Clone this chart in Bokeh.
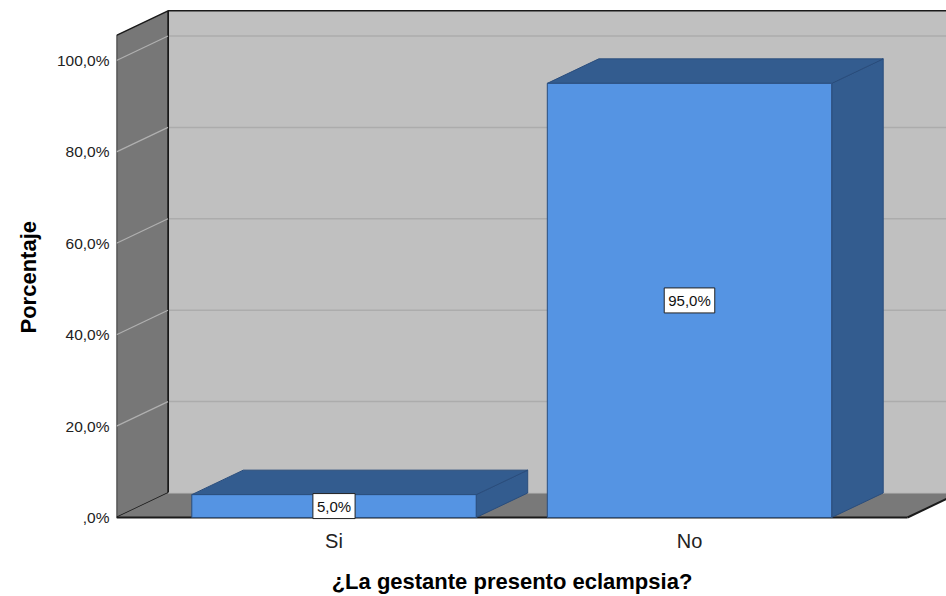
from bokeh.plotting import figure
from bokeh.models import Range1d, FixedTicker, LinearAxis, Title
from bokeh.embed import file_html
from bokeh.resources import INLINE
from bokeh.core.properties import value

# ---- data ----
categories = ["Si", "No"]
percentages = [5.0, 95.0]
value_labels = ["5,0%", "95,0%"]
y_ticks = [0, 20, 40, 60, 80, 100]
y_tick_labels = [",0%", "20,0%", "40,0%", "60,0%", "80,0%", "100,0%"]
x_title = "¿La gestante presento eclampsia?"
y_title = "Porcentaje"

# ---- geometry (3D look) ----
positions = [1, 2]
BAR_W = 0.8
DX = 0.1449      # depth offset in x units
DY = 5.36        # depth offset in y units
X0, X1 = 0.3882, 2.6132
YMAX = 105.5
FONT = value("Liberation Sans")
CAT_Y = -5.25     # category label row (below the floor)
TITLE_Y = -13.9   # x-axis title row

p = figure(width=946, height=596, output_backend="svg", toolbar_location=None,
           x_range=Range1d(0.38819, 2.72293), y_range=Range1d(-17.287, 113.13),
           min_border_left=116, min_border_right=0, min_border_top=0,
           min_border_bottom=0, x_axis_location=None, y_axis_location=None)
p.outline_line_color = None
p.grid.visible = False
p.background_fill_color = "white"
p.border_fill_color = "white"

yax = LinearAxis(ticker=FixedTicker(ticks=y_ticks),
                 major_label_overrides={t: l for t, l in zip(y_ticks, y_tick_labels)})
yax.axis_line_color = None
yax.major_tick_line_color = None
yax.minor_tick_line_color = None
yax.major_tick_out = 0
yax.major_tick_in = 0
yax.major_label_standoff = 7
yax.major_label_text_font = "Liberation Sans"
yax.major_label_text_font_size = "15.5px"
yax.major_label_text_color = "#222222"
p.add_layout(yax, "left")

# y-axis title, shifted to centre on the front plane
p.add_layout(Title(text=y_title, align="left", offset=184 + 79, standoff=26,
                   text_font="Liberation Sans", text_font_style="bold",
                   text_font_size="22px", text_color="#000000"), "left")

# back wall
XR = 3.0
p.patch([X0 + DX, XR, XR, X0 + DX], [DY, DY, YMAX + DY, YMAX + DY],
        fill_color="#C0C0C0", line_color=None)
grid_vals = y_ticks[1:]
p.segment(x0=[X0 + DX] * len(grid_vals), y0=[g + DY for g in grid_vals],
          x1=[XR] * len(grid_vals), y1=[g + DY for g in grid_vals],
          line_color="#ACACAC", line_width=1.5)
p.segment(x0=[X0 + DX], y0=[YMAX + DY], x1=[XR], y1=[YMAX + DY],
          line_color="#1a1a1a", line_width=1.5)
p.segment(x0=[X0 + DX], y0=[DY], x1=[X0 + DX], y1=[YMAX + DY],
          line_color="#1a1a1a", line_width=2)

# left wall
p.patch([X0, X0, X0 + DX, X0 + DX], [0, YMAX, YMAX + DY, DY],
        fill_color="#777777", line_color="#1a1a1a", line_width=1.5)
p.segment(x0=[X0] * len(grid_vals), y0=grid_vals,
          x1=[X0 + DX] * len(grid_vals), y1=[g + DY for g in grid_vals],
          line_color="#B0B0B0", line_width=1.2)

# floor
p.patch([X0, X1, X1 + DX, XR, XR, X0 + DX], [0, 0, DY, DY, DY, DY],
        fill_color="#797979", line_color=None)
p.segment(x0=[X0 + DX], y0=[DY], x1=[XR], y1=[DY], line_color="#B8B8B8", line_width=1)
p.segment(x0=[X0, X1], y0=[0, 0], x1=[X1, X1 + DX], y1=[0, DY],
          line_color="#1a1a1a", line_width=2)

# bars
dark = "#335C8F"
front = "#5594E3"
edge = "#2A4D7C"
side_xs, side_ys, top_xs, top_ys = [], [], [], []
for c, v in zip(positions, percentages):
    l, r = c - BAR_W / 2, c + BAR_W / 2
    side_xs.append([r, r, r + DX, r + DX])
    side_ys.append([0, v, v + DY, DY])
    top_xs.append([l, r, r + DX, l + DX])
    top_ys.append([v, v, v + DY, v + DY])
p.patches(side_xs, side_ys, fill_color=dark, line_color=edge, line_width=1)
p.patches(top_xs, top_ys, fill_color=dark, line_color=edge, line_width=1)
p.vbar(x=positions, top=percentages, bottom=0, width=BAR_W,
       fill_color=front, line_color=edge, line_width=1)

# value labels
p.text(x=positions, y=[v / 2 for v in percentages], text=value_labels,
       text_align="center", text_baseline="middle", text_font=FONT,
       text_font_size="15px", text_color="#111111",
       background_fill_color="white", border_line_color="#222222",
       border_line_width=1, padding=4)

# category labels and x-axis title
p.text(x=positions, y=[CAT_Y] * len(positions), text=categories,
       text_align="center", text_baseline="middle", text_font=FONT,
       text_font_size="20px", text_color="#222222")
p.text(x=[(X0 + X1) / 2], y=[TITLE_Y], text=[x_title],
       text_align="center", text_baseline="middle", text_font=FONT,
       text_font_style="bold", text_font_size="22px", text_color="#000000")

open("out.html", "w").write(file_html(p, INLINE))
